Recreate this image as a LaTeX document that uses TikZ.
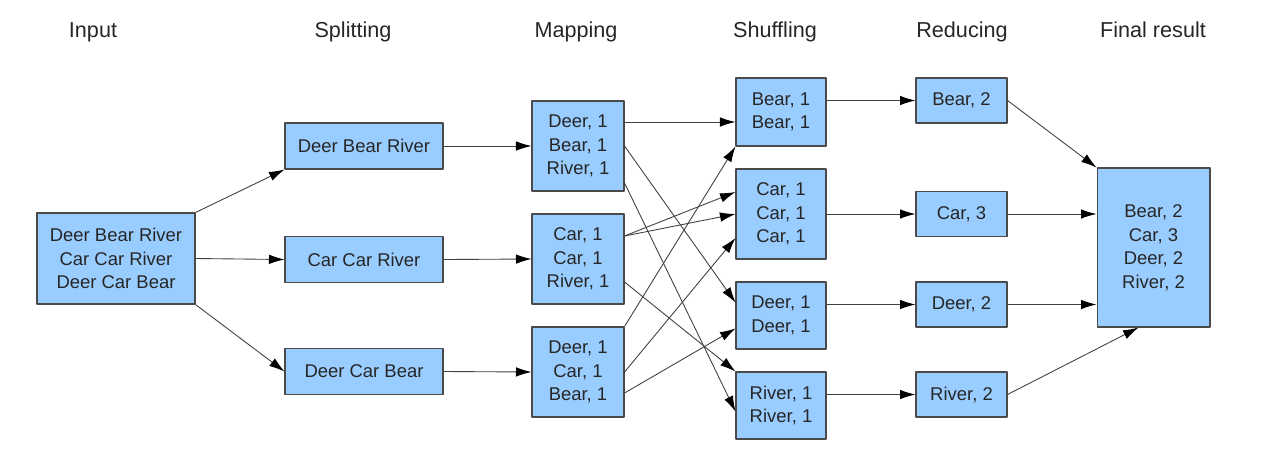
\documentclass[tikz,border=0pt]{standalone}
\usepackage{fontspec}
\setmainfont{Liberation Sans}
\usetikzlibrary{arrows.meta,calc}
\definecolor{boxblue}{HTML}{99CCFF}
\definecolor{boxline}{HTML}{4A4A4A}
\begin{document}
\begin{tikzpicture}[x=0.02cm, y=-0.02cm, font=\fontsize{10.5}{13.4}\selectfont, line join=round, >={Latex[length=3.1mm,width=1.9mm,color=black]},
	box/.style={draw=boxline, fill=boxblue, align=center, inner sep=0pt, line width=0.6pt, text=black!85},
	head/.style={font=\fontsize{12.3}{14}\selectfont, anchor=base, text=black!85},
	flow/.style={->, draw=black!75, line width=0.5pt}]
	\useasboundingbox (0,0) rectangle (1280,461);
	% column titles
	\node[head] (hin) at (93,37) {Input};
	\node[head] (hsp) at (353,37) {Splitting};
	\node[head] (hma) at (576,37) {Mapping};
	\node[head] (hsh) at (775,37) {Shuffling};
	\node[head] (hre) at (962,37) {Reducing};
	\node[head] (hfi) at (1153,37) {Final result};
	% boxes
	\node[box, minimum width=3.16cm, minimum height=1.82cm] (in) at (116,258.5) {Deer Bear River\\Car Car River\\Deer Car Bear};
	\node[box, minimum width=3.16cm, minimum height=0.92cm] (s1) at (364,146) {Deer Bear River};
	\node[box, minimum width=3.16cm, minimum height=0.92cm] (s2) at (364,259.5) {Car Car River};
	\node[box, minimum width=3.16cm, minimum height=0.92cm] (s3) at (364,371.5) {Deer Car Bear};
	\node[box, minimum width=1.84cm, minimum height=1.80cm] (m1) at (578,146) {Deer, 1\\Bear, 1\\River, 1};
	\node[box, minimum width=1.84cm, minimum height=1.80cm] (m2) at (578,259) {Car, 1\\Car, 1\\River, 1};
	\node[box, minimum width=1.84cm, minimum height=1.80cm] (m3) at (578,372) {Deer, 1\\Car, 1\\Bear, 1};
	\node[box, minimum width=1.80cm, minimum height=1.36cm] (sh1) at (781,112) {Bear, 1\\Bear, 1};
	\node[box, minimum width=1.80cm, minimum height=1.80cm] (sh2) at (781,214) {Car, 1\\Car, 1\\Car, 1};
	\node[box, minimum width=1.80cm, minimum height=1.34cm] (sh3) at (781,315.5) {Deer, 1\\Deer, 1};
	\node[box, minimum width=1.80cm, minimum height=1.34cm] (sh4) at (781,405.5) {River, 1\\River, 1};
	\node[box, minimum width=1.82cm, minimum height=0.90cm] (r1) at (961.5,100.5) {Bear, 2};
	\node[box, minimum width=1.82cm, minimum height=0.90cm] (r2) at (961.5,214) {Car, 3};
	\node[box, minimum width=1.82cm, minimum height=0.90cm] (r3) at (961.5,304.5) {Deer, 2};
	\node[box, minimum width=1.82cm, minimum height=0.90cm] (r4) at (961.5,394.5) {River, 2};
	\node[box, minimum width=2.26cm, minimum height=3.18cm] (fin) at (1153.5,247.5) {Bear, 2\\Car, 3\\Deer, 2\\River, 2};
	% input -> splitting
	\draw[flow] (in.north east) -- (s1.south west);
	\draw[flow] (in.east) -- (s2.west);
	\draw[flow] (in.south east) -- (s3.west);
	% splitting -> mapping
	\draw[flow] (s1.east) -- (m1.west);
	\draw[flow] (s2.east) -- (m2.west);
	\draw[flow] (s3.east) -- (m3.west);
	% mapping -> shuffling
	\draw[flow] ($(m1.east)+(0,-24)$) -- ($(sh1.west)+(0,10)$);
	\draw[flow] (m1.east) -- ($(sh3.west)+(0,-13)$);
	\draw[flow] ($(m1.east)+(0,37)$) -- ($(sh4.west)+(0,6)$);
	\draw[flow] ($(m2.east)+(0,-23)$) -- ($(sh2.west)+(0,-22)$);
	\draw[flow] ($(m2.east)+(0,-23)$) -- (sh2.west);
	\draw[flow] ($(m2.east)+(0,23)$) -- (sh4.north west);
	\draw[flow] (m3.north east) -- (sh1.south west);
	\draw[flow] (m3.east) -- ($(sh2.west)+(0,24)$);
	\draw[flow] ($(m3.east)+(0,21)$) -- ($(sh3.west)+(0,13)$);
	% shuffling -> reducing
	\draw[flow] (sh1.east |- r1.west) -- (r1.west);
	\draw[flow] (sh2.east |- r2.west) -- (r2.west);
	\draw[flow] (sh3.east |- r3.west) -- (r3.west);
	\draw[flow] (sh4.east |- r4.west) -- (r4.west);
	% reducing -> final result
	\draw[flow] (r1.east) -- (fin.north west);
	\draw[flow] (r2.east) -- (r2.east -| fin.west);
	\draw[flow] (r3.east) -- (r3.east -| fin.west);
	\draw[flow] (r4.east) -- ($(fin.south)+(-15,0)$);
\end{tikzpicture}
\end{document}
